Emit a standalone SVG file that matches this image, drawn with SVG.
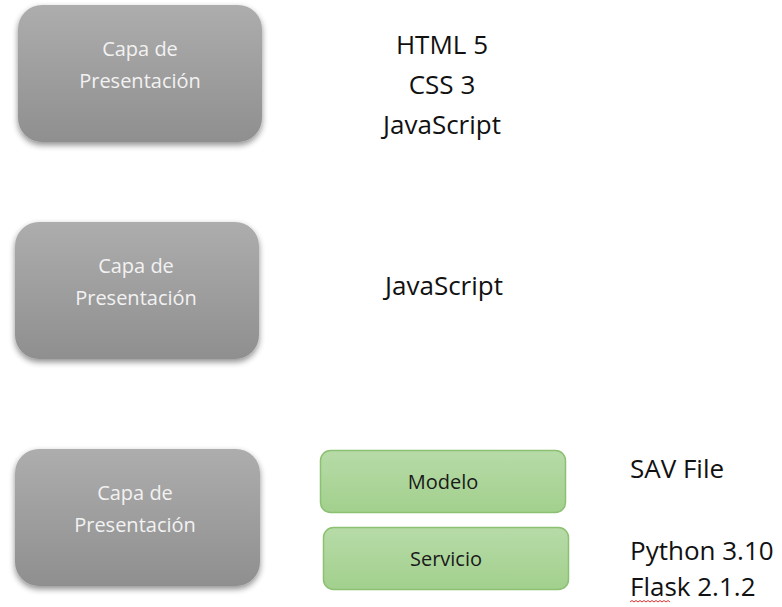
<svg xmlns="http://www.w3.org/2000/svg" width="782" height="607" viewBox="0 0 782 607">
<defs>
<linearGradient id="gGray" x1="0" y1="0" x2="0" y2="1">
<stop offset="0" stop-color="#adadad"/>
<stop offset="1" stop-color="#8f8f8f"/>
</linearGradient>
<linearGradient id="gGreen" x1="0" y1="0" x2="0" y2="1">
<stop offset="0" stop-color="#b7dba8"/>
<stop offset="1" stop-color="#a2d08d"/>
</linearGradient>
<filter id="sh" x="-20%" y="-20%" width="140%" height="150%">
<feGaussianBlur in="SourceAlpha" stdDeviation="3"/>
<feOffset dx="0" dy="3" result="b"/>
<feComponentTransfer><feFuncA type="linear" slope="0.45"/></feComponentTransfer>
<feMerge><feMergeNode/><feMergeNode in="SourceGraphic"/></feMerge>
</filter>
</defs>
<style>
.gray{fill:url(#gGray);filter:url(#sh)}
.green{fill:url(#gGreen);stroke:#8cc072;stroke-width:1.5}
.lbl{font-family:"Open Sans","Noto Sans",sans-serif;font-size:20px;fill:#f2f2f2;text-anchor:middle}
.glbl{font-family:"Open Sans","Noto Sans",sans-serif;font-size:20px;fill:#1a1a1a;text-anchor:middle}
.big{font-family:"Open Sans","Noto Sans",sans-serif;font-size:26px;fill:#111}
</style>
<rect width="782" height="607" fill="#ffffff"/>
<g id="capa1">
<rect class="gray" x="18" y="5" width="244" height="137" rx="24"/>
<text class="lbl" x="140" y="56">Capa de</text>
<text class="lbl" x="140" y="88">Presentación</text>
</g>
<g id="capa2">
<rect class="gray" x="15" y="222" width="244" height="137" rx="24"/>
<text class="lbl" x="136" y="273">Capa de</text>
<text class="lbl" x="136" y="305">Presentación</text>
</g>
<g id="capa3">
<rect class="gray" x="15" y="449" width="245" height="137" rx="24"/>
<text class="lbl" x="135" y="500">Capa de</text>
<text class="lbl" x="135" y="532">Presentación</text>
</g>
<g id="modelo">
<rect class="green" x="320.5" y="450.5" width="245" height="62" rx="10"/>
<text class="glbl" x="443" y="489">Modelo</text>
</g>
<g id="servicio">
<rect class="green" x="323.5" y="527.5" width="245" height="62" rx="10"/>
<text class="glbl" x="446" y="566">Servicio</text>
</g>
<g id="tech1">
<text class="big" x="442" y="54" text-anchor="middle">HTML 5</text>
<text class="big" x="442" y="94" text-anchor="middle">CSS 3</text>
<text class="big" x="442" y="134" text-anchor="middle">JavaScript</text>
</g>
<g id="tech2">
<text class="big" x="444" y="295" text-anchor="middle">JavaScript</text>
</g>
<g id="tech3">
<text class="big" x="630" y="478">SAV File</text>
<text class="big" x="630" y="560">Python 3.10</text>
<text class="big" x="630" y="596">Flask 2.1.2</text>
<path d="M630 602 l2 -1.5 l2 1.5 l2 -1.5 l2 1.5 l2 -1.5 l2 1.5 l2 -1.5 l2 1.5 l2 -1.5 l2 1.5 l2 -1.5 l2 1.5 l2 -1.5 l2 1.5 l2 -1.5 l2 1.5 l2 -1.5 l2 1.5 l2 -1.5 l2 1.5" fill="none" stroke="#e03030" stroke-width="1"/>
</g>
<g id="connectors"></g>
</svg>
